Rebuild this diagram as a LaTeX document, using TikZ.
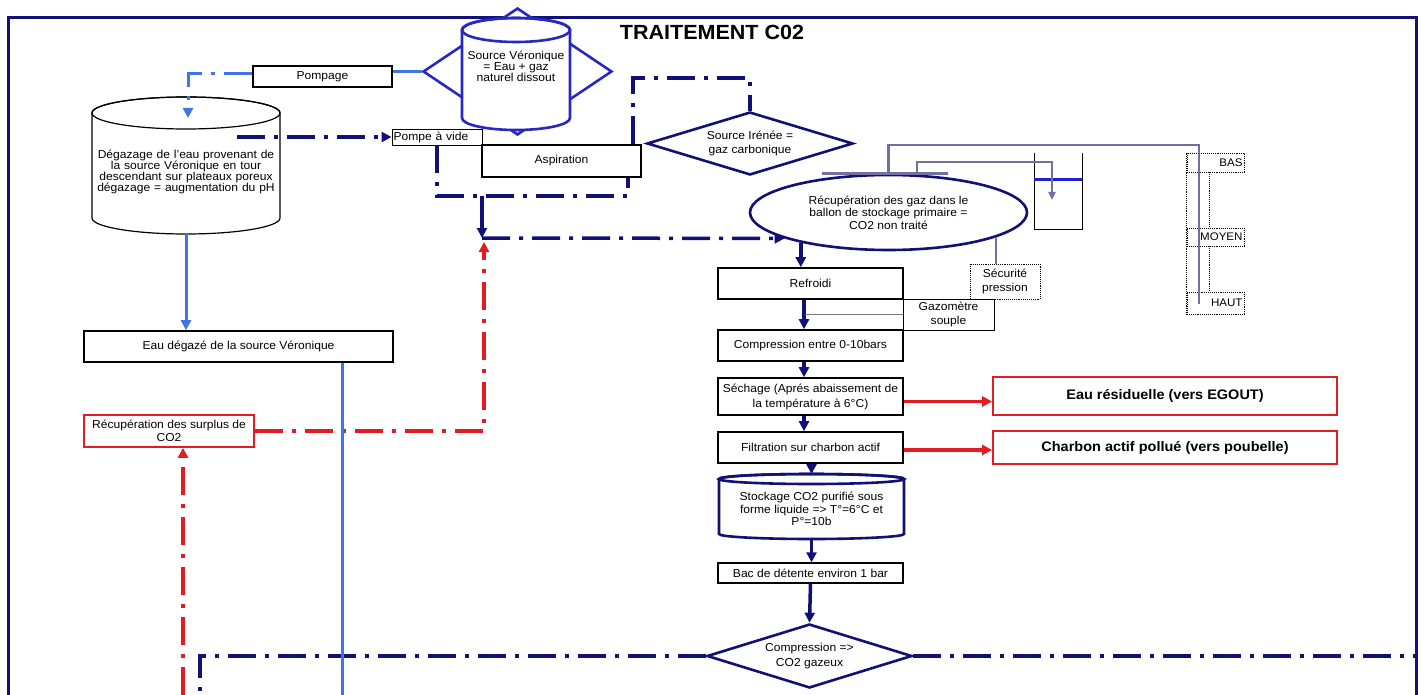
\documentclass[tikz,border=0pt]{standalone}
\usepackage{fontspec}
\setmainfont{Liberation Sans}[FakeStretch=1.05]
\usetikzlibrary{arrows.meta,shapes.geometric}
\definecolor{navyc}{RGB}{16,16,118}
\definecolor{srcblue}{RGB}{40,40,190}
\definecolor{lblue}{RGB}{62,118,232}
\definecolor{redc}{RGB}{226,28,34}
\definecolor{slatec}{RGB}{112,112,164}
\definecolor{waterc}{RGB}{32,32,205}
\definecolor{gazgray}{RGB}{120,120,120}
\tikzset{
  txt/.style={font=\fontsize{11.5}{13.5}\selectfont, align=center, inner sep=0pt, text=black},
  bbox/.style={txt, rectangle, draw=black, line width=1.6pt, fill=white},
  thinbox/.style={txt, rectangle, draw=black, line width=0.9pt, fill=white},
  redbox/.style={txt, rectangle, draw=redc, line width=1.8pt, fill=white},
  dotbox/.style={txt, rectangle, draw=black, line width=0.9pt, densely dotted},
  dotln/.style={draw=black, line width=0.9pt, densely dotted},
  dashdot/.style={dash pattern=on 28pt off 9pt on 4pt off 9pt},
  navyl/.style={draw=navyc, line width=3.5pt},
  lbluel/.style={draw=lblue, line width=3pt},
  redl/.style={draw=redc, line width=3.2pt},
  slatel/.style={draw=slatec, line width=2.5pt},
  arr/.style={-{Triangle[length=10pt,width=10pt]}},
  sarr/.style={-{Triangle[length=8pt,width=7pt]}},
  cyl/.style={line width=1.2pt, draw=black, fill=white},
  hold/.style={rectangle, inner sep=0pt, outer sep=0pt},
}
\begin{document}
\begin{tikzpicture}[x=1pt,y=-1pt]
\useasboundingbox (0,0) rectangle (1421,695);
\fill[white] (0,0) rectangle (1421,695);
% outer frame
\draw[navyc, line width=3pt] (8,695) -- (8,18) -- (1416,18) -- (1416,695);
\node[font=\bfseries\fontsize{20.5}{22}\selectfont, inner sep=0pt] (title) at (712,32) {TRAITEMENT C02};

% Source Veronique
\node[diamond, draw=srcblue, line width=2.6pt, fill=white, minimum width=189pt, minimum height=127pt, inner sep=0pt] (srcd) at (517.5,71.5) {};
\filldraw[cyl, draw=srcblue, line width=2.6pt] (462,30) -- (462,118) arc[start angle=180,end angle=360,x radius=54pt,y radius=12pt] -- (570,30) arc[start angle=0,end angle=180,x radius=54pt,y radius=12pt] -- cycle;
\draw[srcblue, line width=2.6pt] (516,30) ellipse[x radius=54pt, y radius=12pt];
\node[hold, minimum width=108pt, minimum height=112pt] (srccyl) at (516,74) {};
\node[txt, font=\fontsize{11.5}{11}\selectfont] (srctxt) at (516,66) {Source Véronique\\= Eau + gaz\\naturel dissout};

\node[bbox, minimum width=139pt, minimum height=21pt] (pompage) at (322.5,76.5) {Pompage};

% Degazage cylinder
\filldraw[cyl] (92,113) -- (92,218) arc[start angle=180,end angle=360,x radius=94pt,y radius=16pt] -- (280,113) arc[start angle=0,end angle=180,x radius=94pt,y radius=16pt] -- cycle;
\draw[cyl, fill=none] (186,113) ellipse[x radius=94pt, y radius=16pt];
\node[hold, minimum width=188pt, minimum height=136pt] (degcyl) at (186,165) {};
\node[txt, text width=190pt, font=\fontsize{11.5}{10.9}\selectfont] (degtxt) at (186,172) {Dégazage de l'eau provenant de\\la source Véronique en tour\\descendant sur plateaux poreux\\dégazage = augmentation du pH};

\node[thinbox, minimum width=90pt, minimum height=16pt, text width=87pt, align=left] (pompevide) at (437,137) {Pompe à vide};
\node[bbox, minimum width=159pt, minimum height=32pt] (aspiration) at (561.5,161) {Aspiration};
\node[txt, diamond, aspect=3.27, draw=navyc, line width=2.6pt, fill=white, minimum width=206pt, minimum height=63pt] (irenee) at (750,143.5) {Source Irénée =\\gaz carbonique};

\node[bbox, minimum width=309pt, minimum height=31pt] (eaudeg) at (238.5,346.5) {Eau dégazé de la source Véronique};
\node[redbox, minimum width=170pt, minimum height=32pt] (recup) at (169,431) {Récupération des surplus de\\CO2};

% right column
\node[txt, ellipse, draw=navyc, line width=2.6pt, fill=white, minimum width=277pt, minimum height=75pt, font=\fontsize{11.5}{12.5}\selectfont] (ell) at (888.5,212.5) {Récupération des gaz dans le\\ballon de stockage primaire =\\CO2 non traité};
\node[bbox, minimum width=185pt, minimum height=31pt] (refroidi) at (810.5,283.5) {Refroidi};
\node[thinbox, minimum width=91pt, minimum height=31pt] (gazometre) at (948.5,314.5) {Gazomètre\\souple};
\node[bbox, minimum width=185pt, minimum height=31pt] (compression) at (810.5,345.5) {Compression entre 0-10bars};
\node[bbox, minimum width=185pt, minimum height=37pt, font=\fontsize{11.5}{15}\selectfont] (sechage) at (810.5,396.5) {Séchage (Aprés abaissement de\\la température à 6°C)};
\node[bbox, minimum width=185pt, minimum height=31pt] (filtration) at (810.5,447.5) {Filtration sur charbon actif};

\filldraw[cyl, draw=navyc, line width=2.6pt] (719,479) -- (719,534) arc[start angle=180,end angle=360,x radius=92.5pt,y radius=5pt] -- (904,479) arc[start angle=0,end angle=180,x radius=92.5pt,y radius=5pt] -- cycle;
\draw[navyc, line width=2.6pt] (811.5,479) ellipse[x radius=92.5pt, y radius=5pt];
\node[hold, minimum width=185pt, minimum height=65pt] (stockcyl) at (811.5,506.5) {};
\node[txt, font=\fontsize{11.5}{12.5}\selectfont] (stocktxt) at (811.5,509) {Stockage CO2 purifié sous\\forme liquide => T°=6°C et\\P°=10b};

\node[bbox, line width=1.4pt, minimum width=185pt, minimum height=20pt] (bac) at (810.5,573) {Bac de détente environ 1 bar};
\node[txt, diamond, aspect=3.2, draw=navyc, line width=2.6pt, fill=white, minimum width=205pt, minimum height=64pt, font=\fontsize{11.5}{15}\selectfont] (compd) at (809.5,656) {Compression =>\\CO2 gazeux};

\node[redbox, minimum width=344pt, minimum height=38pt, font=\bfseries\fontsize{13.8}{15}\selectfont] (eauresid) at (1165,396) {Eau résiduelle (vers EGOUT)};
\node[redbox, minimum width=344pt, minimum height=33pt, font=\bfseries\fontsize{13.8}{15}\selectfont] (charbon) at (1165,447.5) {Charbon actif pollué (vers poubelle)};

\node[dotbox, minimum width=70pt, minimum height=35pt] (securite) at (1005,281.5) {Sécurité\\pression};
\node[dotbox, minimum width=57pt, minimum height=19pt, text width=54pt, align=right, font=\fontsize{11}{12}\selectfont] (bas) at (1215.5,162.5) {BAS};
\node[dotbox, minimum width=57pt, minimum height=18pt, text width=54pt, align=right, font=\fontsize{11}{12}\selectfont] (moyen) at (1215.5,237) {MOYEN};
\node[dotbox, minimum width=57pt, minimum height=22pt, text width=54pt, align=right, font=\fontsize{11}{12}\selectfont] (haut) at (1215.5,303) {HAUT};
\coordinate (mx) at (1209,0);
\draw[dotln] (bas.north west) -- (haut.south west);
\draw[dotln] (bas.south -| mx) -- (moyen.north -| mx);
\draw[dotln] (moyen.south -| mx) -- (haut.north -| mx);

% tank
\draw[black, line width=1pt] (1034,153) -- (1034,229) -- (1082,229) -- (1082,153);
\draw[waterc, line width=3pt] (1034,180) -- (1082,180);

% coordinates
\coordinate (redbot) at (183,695);
\coordinate (rtop) at (484,242);
\coordinate (vacstart) at (237,137);
\coordinate (loopL) at (437,196);
\coordinate (loopR) at (628,196);
\coordinate (j1) at (482,196);
\coordinate (j2) at (482,238);
\coordinate (ir1) at (633,78);
\coordinate (ir2) at (750,78);
\coordinate (colx) at (804,0);
\coordinate (lbot) at (200,695);
\coordinate (rbord) at (1416,656);
\coordinate (degin) at (188,118);
\coordinate (bluebot) at (342,695);
\coordinate (s1) at (888.5,145);
\coordinate (s2) at (1199,145);
\coordinate (s3) at (1199,304);
\coordinate (t1) at (917,162);
\coordinate (t2) at (1052,162);
\coordinate (t3) at (1052,200);
\coordinate (gx) at (805,0);

% red connectors
\draw[redl, dashdot, arr] (redbot) -- (recup.south -| redbot);
\draw[redl, dashdot, arr] (recup.east) -- (recup.east -| rtop) -- (rtop);
\draw[redl, arr] ([yshift=-5pt]sechage.east) -- ([yshift=-5pt]sechage.east -| eauresid.west);
\draw[redl, arr] ([yshift=-2.5pt]filtration.east) -- ([yshift=-2.5pt]filtration.east -| charbon.west);

% navy connectors
\draw[navyl, dashdot, arr] (vacstart) -- (pompevide.west);
\draw[navyl, dashdot] (pompevide.south -| loopL) -- (loopL) -- (loopR) -- (aspiration.south -| loopR);
\draw[navyl, arr] (j1) -- (j2);
\draw[navyl, dashdot, arr] (j2) -- (ell.194);
\draw[navyl, dashdot] (aspiration.north -| ir1) -- (ir1) -- (ir2) -- (irenee.north);
\draw[navyl, arr] (ell.199) -- (ell.199 |- refroidi.north);
\draw[navyl, arr] (refroidi.south -| colx) -- (compression.north -| colx);
\draw[navyl, arr] (compression.south -| colx) -- (sechage.north -| colx);
\draw[navyl, arr] (sechage.south -| colx) -- (filtration.north -| colx);
\draw[navyl, arr] (filtration.south -| stockcyl.north) -- (stockcyl.north);
\draw[navyl, arr] (stockcyl.south) -- (stockcyl.south |- bac.north);
\draw[navyl, arr] (bac.south) -- (compd.north);
\draw[navyl, dashdot] (compd.west) -- (compd.west -| lbot) -- (lbot);
\draw[navyl, dashdot] (compd.east) -- (rbord);

% light blue connectors
\draw[lbluel] (srcd.west) -- (srcd.west -| pompage.east);
\draw[lbluel, dashdot, arr] ([yshift=3pt]pompage.west) -- ([yshift=3pt]pompage.west -| degin) -- (degin);
\draw[lbluel, arr] (degcyl.south) -- (degcyl.south |- eaudeg.north);
\draw[lbluel] (eaudeg.south -| bluebot) -- (bluebot);

% slate connectors
\draw[slatel] ([xshift=-66.5pt]ell.north) -- ([xshift=59.5pt]ell.north);
\draw[slatel] (ell.north) -- (s1) -- (s2) -- (s3);
\draw[slatel, sarr] ([xshift=28.5pt]ell.north) -- (t1) -- (t2) -- (t3);
\draw[slatel] (ell.-13) -- (ell.-13 |- securite.north);
\draw[gazgray, line width=1pt] (gazometre.west) -- (gazometre.west -| gx);
\end{tikzpicture}
\end{document}
